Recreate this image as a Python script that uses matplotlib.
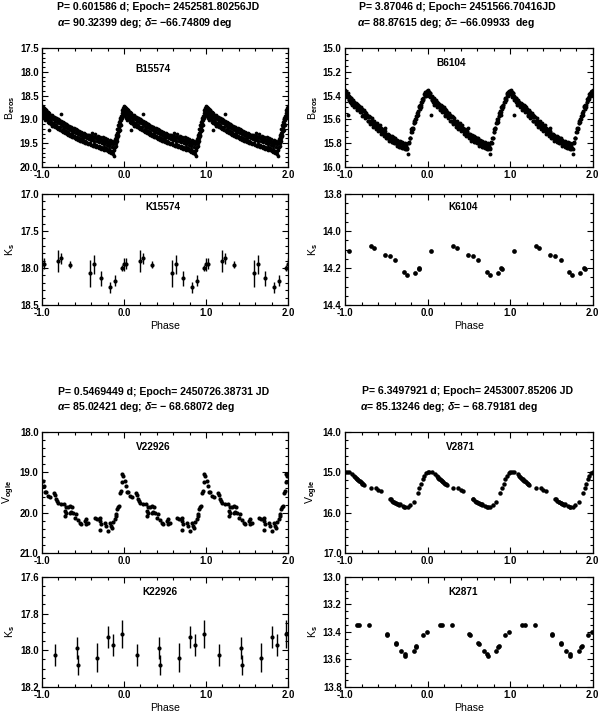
import matplotlib
matplotlib.use('Agg')
import matplotlib.pyplot as plt
import numpy as np
from matplotlib.ticker import MultipleLocator, FormatStrFormatter

plt.rcParams['font.family'] = 'Liberation Sans'
plt.rcParams['font.weight'] = 'bold'
plt.rcParams['mathtext.fontset'] = 'custom'
plt.rcParams['mathtext.rm'] = 'Liberation Sans:bold'
plt.rcParams['mathtext.it'] = 'Liberation Sans:italic:bold'
plt.rcParams['mathtext.bf'] = 'Liberation Sans:bold'

# ---- B15574 (EROS B), one cycle in phase
b15574_ph = [0.000, 0.004, 0.008, 0.012, 0.016, 0.020, 0.025, 0.030, 0.035, 0.040,
             0.045, 0.050, 0.055, 0.060, 0.065, 0.070, 0.075, 0.080, 0.085, 0.090,
             0.095, 0.100, 0.108, 0.115, 0.122, 0.130, 0.137, 0.145, 0.152, 0.160,
             0.167, 0.175, 0.182, 0.190, 0.197, 0.205, 0.212, 0.220, 0.228, 0.235,
             0.242, 0.250, 0.258, 0.265, 0.272, 0.280, 0.288, 0.295, 0.302, 0.310,
             0.318, 0.325, 0.332, 0.340, 0.348, 0.355, 0.362, 0.370, 0.378, 0.385,
             0.392, 0.400, 0.408, 0.415, 0.422, 0.430, 0.438, 0.445, 0.452, 0.460,
             0.468, 0.475, 0.482, 0.490, 0.498, 0.505, 0.512, 0.520, 0.528, 0.535,
             0.542, 0.550, 0.558, 0.565, 0.572, 0.580, 0.588, 0.595, 0.602, 0.610,
             0.618, 0.625, 0.632, 0.640, 0.648, 0.655, 0.662, 0.670, 0.678, 0.685,
             0.692, 0.700, 0.708, 0.715, 0.722, 0.730, 0.738, 0.745, 0.752, 0.760,
             0.768, 0.775, 0.782, 0.790, 0.798, 0.805, 0.812, 0.820, 0.828, 0.835,
             0.842, 0.850, 0.858, 0.865, 0.872, 0.878, 0.884, 0.890, 0.895, 0.900,
             0.905, 0.910, 0.915, 0.920, 0.925, 0.930, 0.935, 0.940, 0.945, 0.950,
             0.955, 0.960, 0.965, 0.970, 0.975, 0.980, 0.985, 0.990, 0.995,
             0.002, 0.010, 0.018, 0.026, 0.034, 0.042, 0.050, 0.058, 0.066, 0.074,
             0.082, 0.090, 0.098, 0.106, 0.114, 0.122, 0.130, 0.140, 0.150, 0.160,
             0.170, 0.180, 0.190, 0.200, 0.210, 0.220, 0.230, 0.240, 0.250, 0.260,
             0.270, 0.280, 0.290, 0.300, 0.310, 0.320, 0.330, 0.340, 0.350, 0.360,
             0.370, 0.380, 0.390, 0.400, 0.410, 0.420, 0.430, 0.440, 0.450, 0.460,
             0.470, 0.480, 0.490, 0.500, 0.510, 0.520, 0.530, 0.540, 0.550, 0.560,
             0.570, 0.580, 0.590, 0.600, 0.610, 0.620, 0.630, 0.640, 0.650, 0.660,
             0.670, 0.680, 0.690, 0.700, 0.710, 0.720, 0.730, 0.740, 0.750, 0.760,
             0.770, 0.780, 0.790, 0.800, 0.810, 0.820, 0.830, 0.840, 0.850, 0.860,
             0.870, 0.880, 0.890, 0.898, 0.906, 0.914, 0.922, 0.930, 0.938, 0.946,
             0.954, 0.962, 0.970, 0.978, 0.986, 0.994]
b15574_mag = [18.74, 18.80, 18.86, 18.78, 18.92, 18.83, 18.76, 18.90, 18.84, 18.97,
              18.88, 18.81, 18.93, 18.86, 19.00, 18.90, 18.84, 19.23, 18.95, 18.88,
              19.02, 18.93, 19.05, 18.97, 18.90, 19.08, 19.00, 18.94, 19.10, 19.03,
              18.97, 19.12, 19.05, 19.00, 19.15, 19.08, 19.02, 19.17, 18.88, 19.10,
              19.05, 19.20, 19.13, 19.08, 19.22, 19.15, 19.10, 19.25, 19.18, 19.12,
              19.27, 19.20, 19.15, 19.30, 19.23, 19.17, 19.31, 19.25, 19.20, 19.34,
              19.27, 19.21, 19.36, 19.29, 19.23, 19.38, 19.31, 19.26, 19.40, 19.33,
              19.27, 19.42, 19.35, 19.29, 19.44, 19.37, 19.30, 19.46, 19.38, 19.32,
              19.47, 19.40, 19.33, 19.49, 19.41, 19.35, 19.50, 19.43, 19.36, 19.28,
              19.44, 19.38, 19.52, 19.45, 19.31, 19.40, 19.53, 19.46, 19.35, 19.42,
              19.55, 19.48, 19.37, 19.44, 19.57, 19.49, 19.38, 19.45, 19.58, 19.51,
              19.40, 19.47, 19.60, 19.53, 19.42, 19.49, 19.62, 19.55, 19.44, 19.51,
              19.66, 19.57, 19.46, 19.72, 19.60, 19.50, 19.76, 19.58, 19.45, 19.33,
              19.50, 19.28, 19.40, 19.20, 19.33, 19.12, 19.25, 19.05, 19.15, 18.98,
              19.08, 18.92, 19.02, 18.86, 18.95, 18.80, 18.90, 18.76, 18.84,
              18.72, 18.90, 18.74, 18.97, 18.79, 19.02, 18.80, 19.00, 18.84, 19.06,
              18.87, 19.08, 18.90, 19.10, 18.92, 19.13, 18.94, 19.14, 18.95, 19.16,
              18.97, 19.18, 19.00, 19.20, 19.01, 19.22, 19.04, 19.24, 19.05, 19.26,
              19.08, 19.28, 19.10, 19.30, 19.11, 19.32, 19.14, 19.34, 19.15, 19.36,
              19.18, 19.38, 19.19, 19.39, 19.21, 19.41, 19.23, 19.43, 19.25, 19.45,
              19.26, 19.46, 19.28, 19.47, 19.29, 19.49, 19.30, 19.50, 19.32, 19.51,
              19.33, 19.52, 19.34, 19.54, 19.35, 19.55, 19.37, 19.56, 19.38, 19.58,
              19.40, 19.59, 19.41, 19.60, 19.42, 19.62, 19.43, 19.63, 19.44, 19.64,
              19.46, 19.65, 19.47, 19.67, 19.48, 19.68, 19.49, 19.70, 19.50, 19.66,
              19.52, 19.64, 19.42, 19.56, 19.36, 19.46, 19.26, 19.34, 19.16, 19.22,
              19.02, 19.12, 18.92, 18.98, 18.82, 18.78]

# ---- K15574
k15574_ph = [0.000, 0.030, 0.190, 0.230, 0.340, 0.590, 0.630, 0.720, 0.835, 0.885, 0.975]
k15574_mag = [17.95, 17.94, 17.90, 17.87, 17.955, 18.07, 17.95, 18.14, 18.26, 18.17, 18.00]
k15574_err = [0.085, 0.07, 0.15, 0.07, 0.05, 0.18, 0.13, 0.10, 0.075, 0.075, 0.045]

# ---- B6104 (EROS B)
b6104_ph = [0.000, 0.006, 0.012, 0.018, 0.024, 0.030, 0.036, 0.042, 0.048, 0.054,
            0.060, 0.066, 0.072, 0.078, 0.084, 0.090, 0.096, 0.102, 0.110, 0.118,
            0.126, 0.134, 0.142, 0.150, 0.158, 0.166, 0.174, 0.182, 0.190, 0.198,
            0.206, 0.214, 0.222, 0.230, 0.238, 0.246, 0.254, 0.262, 0.270, 0.278,
            0.286, 0.294, 0.302, 0.310, 0.318, 0.326, 0.334, 0.342, 0.350, 0.358,
            0.366, 0.374, 0.382, 0.390, 0.398, 0.406, 0.414, 0.422, 0.430, 0.438,
            0.446, 0.454, 0.462, 0.470, 0.478, 0.486, 0.494, 0.502, 0.510, 0.518,
            0.526, 0.534, 0.542, 0.550, 0.558, 0.566, 0.574, 0.582, 0.590, 0.598,
            0.606, 0.614, 0.622, 0.630, 0.638, 0.646, 0.654, 0.662, 0.670, 0.678,
            0.686, 0.694, 0.702, 0.710, 0.718, 0.726, 0.734, 0.742, 0.750, 0.758,
            0.766, 0.774, 0.782, 0.790, 0.798, 0.806, 0.814, 0.822, 0.830, 0.838,
            0.846, 0.854, 0.862, 0.870, 0.878, 0.886, 0.894, 0.902, 0.910, 0.918,
            0.926, 0.934, 0.942, 0.950, 0.958, 0.966, 0.974, 0.982, 0.990,
            0.003, 0.019, 0.035, 0.051, 0.067, 0.083, 0.099, 0.115, 0.131, 0.147,
            0.163, 0.179, 0.195, 0.211, 0.227, 0.243, 0.259, 0.275, 0.291, 0.307,
            0.323, 0.339, 0.355, 0.371, 0.387, 0.403, 0.419, 0.435, 0.451, 0.467,
            0.483, 0.499, 0.515, 0.531, 0.547, 0.563, 0.579, 0.595, 0.611, 0.627,
            0.643, 0.659, 0.675, 0.691, 0.707, 0.723, 0.739, 0.755, 0.771, 0.787,
            0.803, 0.819, 0.835, 0.851, 0.867, 0.883, 0.899, 0.915, 0.931, 0.947,
            0.963, 0.979, 0.995]
b6104_mag = [15.37, 15.35, 15.39, 15.37, 15.41, 15.38, 15.41, 15.56, 15.40, 15.44,
             15.42, 15.45, 15.42, 15.46, 15.44, 15.47, 15.45, 15.47, 15.45, 15.49,
             15.47, 15.49, 15.47, 15.51, 15.49, 15.51, 15.49, 15.53, 15.51, 15.54,
             15.51, 15.56, 15.53, 15.56, 15.54, 15.58, 15.56, 15.58, 15.56, 15.61,
             15.58, 15.61, 15.58, 15.63, 15.61, 15.63, 15.61, 15.65, 15.63, 15.65,
             15.63, 15.67, 15.65, 15.67, 15.65, 15.69, 15.67, 15.69, 15.67, 15.71,
             15.69, 15.71, 15.69, 15.73, 15.71, 15.67, 15.74, 15.72, 15.76, 15.73,
             15.76, 15.73, 15.77, 15.75, 15.77, 15.74, 15.79, 15.76, 15.78, 15.76,
             15.80, 15.77, 15.80, 15.77, 15.81, 15.79, 15.81, 15.78, 15.83, 15.80,
             15.82, 15.79, 15.84, 15.81, 15.83, 15.80, 15.85, 15.82, 15.84, 15.89,
             15.80, 15.80, 15.76, 15.76, 15.71, 15.71, 15.67, 15.67, 15.63, 15.63,
             15.60, 15.60, 15.57, 15.57, 15.53, 15.54, 15.50, 15.51, 15.48, 15.48,
             15.45, 15.45, 15.42, 15.43, 15.39, 15.40, 15.37, 15.39, 15.36,
             15.36, 15.40, 15.38, 15.44, 15.42, 15.48, 15.44, 15.50, 15.46, 15.52,
             15.48, 15.54, 15.50, 15.57, 15.52, 15.59, 15.55, 15.61, 15.57, 15.64,
             15.59, 15.66, 15.61, 15.68, 15.63, 15.70, 15.65, 15.72, 15.68, 15.74,
             15.70, 15.76, 15.72, 15.78, 15.74, 15.79, 15.75, 15.80, 15.76, 15.82,
             15.78, 15.83, 15.79, 15.84, 15.80, 15.85, 15.81, 15.85, 15.79, 15.76,
             15.68, 15.68, 15.61, 15.62, 15.55, 15.56, 15.49, 15.50, 15.43, 15.44,
             15.38, 15.40, 15.36]

# ---- K6104
k6104_ph = [0.045, 0.310, 0.350, 0.485, 0.545, 0.610, 0.716, 0.750, 0.850, 0.890, 0.900]
k6104_mag = [14.11, 14.08, 14.09, 14.127, 14.136, 14.157, 14.221, 14.236, 14.225, 14.202, 14.207]

# ---- V22926 (OGLE V)
v22926_ph = [0.981, 0.993, 0.013, 0.025, 0.960, 0.033, 0.054, 0.074, 0.094, 0.143,
             0.155, 0.167, 0.183, 0.195, 0.236, 0.264, 0.297, 0.317, 0.345, 0.370,
             0.277, 0.297, 0.337, 0.357, 0.378, 0.410, 0.277, 0.398, 0.439, 0.459,
             0.479, 0.520, 0.540, 0.560, 0.532, 0.641, 0.670, 0.702, 0.702, 0.722,
             0.702, 0.803, 0.763, 0.783, 0.824, 0.844, 0.856, 0.864, 0.885, 0.897,
             0.913, 0.937, 0.905, 0.925, 0.950, 0.970]
v22926_mag = [19.04, 19.10, 19.21, 19.33, 19.46, 19.48, 19.48, 19.58, 19.60, 19.50,
              19.57, 19.65, 19.71, 19.75, 19.79, 19.79, 19.85, 19.87, 19.83, 19.85,
              19.96, 20.00, 20.02, 19.98, 20.00, 20.04, 20.08, 20.12, 20.17, 20.25,
              20.29, 20.21, 20.15, 20.25, 20.29, 20.12, 20.15, 20.12, 20.21, 20.29,
              20.42, 20.46, 20.25, 20.33, 20.25, 20.32, 20.38, 20.23, 20.15, 20.04,
              19.90, 19.83, 20.08, 19.86, 19.50, 19.25]

# ---- K22926
k22926_ph = [0.162, 0.426, 0.440, 0.670, 0.803, 0.864, 0.977]
k22926_mag = [18.026, 17.987, 18.08, 18.04, 17.93, 17.97, 17.91]
k22926_err = [0.06, 0.058, 0.055, 0.08, 0.06, 0.06, 0.077]

# ---- V2871 (OGLE V)
v2871_ph = [0.000, 0.020, 0.050, 0.090, 0.110, 0.120, 0.130, 0.140, 0.150, 0.160,
            0.170, 0.180, 0.190, 0.200, 0.210, 0.220, 0.230, 0.310, 0.370, 0.400,
            0.430, 0.545, 0.555, 0.570, 0.585, 0.595, 0.610, 0.620, 0.630, 0.645,
            0.655, 0.660, 0.700, 0.720, 0.730, 0.760, 0.790, 0.830, 0.880, 0.900,
            0.920, 0.940, 0.960, 0.980]
v2871_mag = [14.98, 14.98, 15.00, 15.05, 15.10, 15.12, 15.14, 15.16, 15.17, 15.19,
             15.21, 15.22, 15.24, 15.27, 15.29, 15.30, 15.32, 15.40, 15.39, 15.43,
             15.47, 15.65, 15.67, 15.71, 15.73, 15.74, 15.75, 15.77, 15.78, 15.79,
             15.80, 15.79, 15.84, 15.86, 15.86, 15.86, 15.81, 15.73, 15.50, 15.40,
             15.29, 15.17, 15.08, 15.02]

# ---- K2871
k2871_ph = [0.145, 0.175, 0.295, 0.505, 0.510, 0.615, 0.618, 0.680, 0.725, 0.730,
            0.830, 0.858, 0.865, 0.942, 0.990]
k2871_mag = [13.348, 13.348, 13.348, 13.416, 13.425, 13.48, 13.49, 13.535, 13.56, 13.572,
             13.535, 13.51, 13.50, 13.42, 13.40]

fig = plt.figure(figsize=(6, 7.13), dpi=100)


def panel(rect, ph, mag, name, namepos, ylab, ylim, ymaj, ymin, ms, err=None, phase_label=False):
    ax = fig.add_axes(rect)
    shifts = (-1, 0, 1, 2)
    x = np.concatenate([np.array(ph) + k for k in shifts])
    y = np.tile(mag, len(shifts))
    if err is None:
        ax.plot(x, y, 'o', color='black', ms=ms, mew=0)
    else:
        ax.errorbar(x, y, yerr=np.tile(err, len(shifts)), fmt='o', color='black',
                    ms=ms, mew=0, elinewidth=1.0, capsize=2.6, capthick=1.0)
    ax.set_xlim(-1, 2)
    ax.set_ylim(ylim)
    ax.xaxis.set_major_locator(MultipleLocator(1.0))
    ax.xaxis.set_minor_locator(MultipleLocator(0.2))
    ax.xaxis.set_major_formatter(FormatStrFormatter('%.1f'))
    ax.yaxis.set_major_locator(MultipleLocator(ymaj))
    ax.yaxis.set_minor_locator(MultipleLocator(ymin))
    ax.yaxis.set_major_formatter(FormatStrFormatter('%.1f'))
    ax.tick_params(which='both', direction='in', top=True, right=True, labelsize=6.9, width=0.8)
    ax.tick_params(which='major', length=4.5, pad=2.5)
    ax.tick_params(which='minor', length=2.2)
    for s in ax.spines.values():
        s.set_linewidth(0.9)
    ax.set_ylabel(ylab, fontsize=7.6)
    ax.yaxis.set_label_coords(-0.102, 0.5)
    if phase_label:
        ax.set_xlabel('Phase', fontsize=7.6, labelpad=1.5)
    ax.text(namepos[0], namepos[1], name, transform=ax.transAxes,
            ha='center', va='center', fontsize=7.2)
    return ax


left_x, left_w = 0.07, 0.41
right_x, right_w = 0.575, 0.413

panel([left_x, 0.7658, left_w, 0.1669], b15574_ph, b15574_mag, 'B15574', (0.45, 0.82),
      r'B$_{\rm eros}$', (20.0, 17.5), 0.5, 0.1, 2.7)
panel([left_x, 0.5722, left_w, 0.1557], k15574_ph, k15574_mag, 'K15574', (0.49, 0.88),
      r'K$_{\rm s}$', (18.5, 17.0), 0.5, 0.1, 3.0, err=k15574_err, phase_label=True)
panel([right_x, 0.7658, right_w, 0.1669], b6104_ph, b6104_mag, 'B6104', (0.43, 0.87),
      r'B$_{\rm eros}$', (16.0, 15.0), 0.2, 0.05, 2.8)
panel([right_x, 0.5722, right_w, 0.1557], k6104_ph, k6104_mag, 'K6104', (0.476, 0.88),
      r'K$_{\rm s}$', (14.4, 13.8), 0.2, 0.05, 3.4, phase_label=True)
panel([left_x, 0.2244, left_w, 0.1697], v22926_ph, v22926_mag, 'V22926', (0.453, 0.876),
      r'V$_{\rm ogle}$', (21.0, 18.0), 1.0, 0.2, 3.0)
panel([left_x, 0.0365, left_w, 0.1543], k22926_ph, k22926_mag, 'K22926', (0.48, 0.864),
      r'K$_{\rm s}$', (18.2, 17.6), 0.2, 0.05, 3.0, err=k22926_err, phase_label=True)
panel([right_x, 0.2244, right_w, 0.1697], v2871_ph, v2871_mag, 'V2871', (0.464, 0.876),
      r'V$_{\rm ogle}$', (17.0, 14.0), 1.0, 0.2, 3.2)
panel([right_x, 0.0365, right_w, 0.1543], k2871_ph, k2871_mag, 'K2871', (0.476, 0.864),
      r'K$_{\rm s}$', (13.8, 13.0), 0.2, 0.05, 3.4, phase_label=True)

hdr = dict(fontsize=7.6, ha='left', va='center')
fig.text(57 / 600, 1 - 7 / 713, 'P= 0.601586 d; Epoch= 2452581.80256JD', **hdr)
fig.text(57 / 600, 1 - 23.5 / 713, '$\\alpha$= 90.32399 deg; $\\delta$= \u221266.74809 deg', **hdr)
fig.text(359 / 600, 1 - 7 / 713, 'P= 3.87046 d; Epoch= 2451566.70416JD', **hdr)
fig.text(357 / 600, 1 - 23.5 / 713, '$\\alpha$= 88.87615 deg; $\\delta$= \u221266.09933  deg', **hdr)
fig.text(58 / 600, 1 - 392 / 713, 'P= 0.5469449 d; Epoch= 2450726.38731 JD', **hdr)
fig.text(57 / 600, 1 - 406.5 / 713, '$\\alpha$= 85.02421 deg; $\\delta$= \u2212 68.68072 deg', **hdr)
fig.text(362 / 600, 1 - 391 / 713, 'P= 6.3497921 d; Epoch= 2453007.85206 JD', **hdr)
fig.text(360 / 600, 1 - 406.5 / 713, '$\\alpha$= 85.13246 deg; $\\delta$= \u2212 68.79181 deg', **hdr)

fig.savefig('out.png', dpi=100)
